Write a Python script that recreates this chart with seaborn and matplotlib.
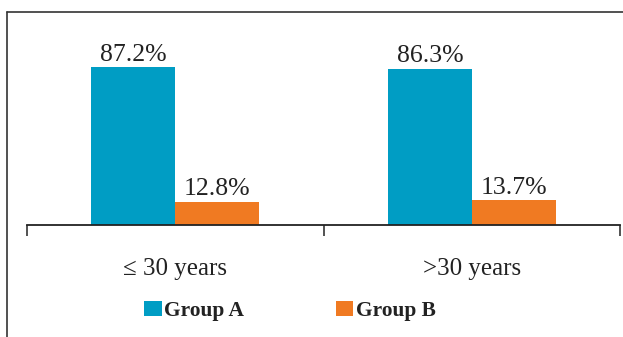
import matplotlib
matplotlib.use("Agg")
import matplotlib.pyplot as plt
from matplotlib.lines import Line2D
from matplotlib.patches import Patch
import seaborn as sns
import pandas as pd

# data
age_groups = ["\u2264 30 years", ">30 years"]
group_names = ["Group A", "Group B"]
group_a = [87.2, 86.3]
group_b = [12.8, 13.7]

colors = ["#009DC4", "#F07A22"]

df = pd.DataFrame({
    "age": age_groups * 2,
    "group": [group_names[0]] * 2 + [group_names[1]] * 2,
    "pct": group_a + group_b,
})

sns.set_theme(style="white")
plt.rcParams["font.family"] = ["Liberation Serif", "DejaVu Serif"]

fig = plt.figure(figsize=(6.23, 3.37), dpi=100)
ax = fig.add_axes([27 / 623, 1 - 225 / 337, (620 - 27) / 623, (225 - 44) / 337])

sns.barplot(data=df, x="age", y="pct", hue="group", palette=colors,
            width=0.565, saturation=1, linewidth=0, ax=ax, legend=False)

for cont in ax.containers:
    ax.bar_label(cont, labels=[f"{v:.1f}%" for v in cont.datavalues],
                 padding=1, fontsize=18.5, color="#222222")

ax.set_ylim(0, 100)
ax.set_xlim(-0.5, 1.5)
ax.set_xlabel("")
ax.set_ylabel("")
ax.set_yticks([])
for s in ["top", "right", "left"]:
    ax.spines[s].set_visible(False)
ax.spines["bottom"].set_color("#222222")
ax.spines["bottom"].set_linewidth(1.3)

# category boundary ticks
ax.set_xticks([-0.5, 0.5, 1.5], minor=True)
ax.tick_params(axis="x", which="minor", length=8, width=1.3, color="#444444",
               direction="out", bottom=True)
ax.tick_params(axis="x", which="major", length=0, pad=24, labelsize=18,
               labelcolor="#222222")

# legend below
handles = [Patch(facecolor=c, edgecolor="none") for c in colors]
leg = fig.legend(handles, group_names, loc="center left",
                 bbox_to_anchor=(144 / 623, 1 - 311 / 337), ncol=2,
                 frameon=False, borderpad=0, borderaxespad=0,
                 handlelength=0.83, handleheight=0.73, handletextpad=0.1,
                 columnspacing=4.3, prop={"weight": "bold", "size": 15.4})
for t in leg.get_texts():
    t.set_color("#222222")

# outer frame (top and left edges)
fig.add_artist(Line2D([7 / 623, 1], [1 - 12 / 337, 1 - 12 / 337],
                      transform=fig.transFigure, color="#333333", lw=1.2))
fig.add_artist(Line2D([7 / 623, 7 / 623], [0, 1 - 12 / 337],
                      transform=fig.transFigure, color="#333333", lw=1.2))

fig.savefig("out.png", dpi=100)
